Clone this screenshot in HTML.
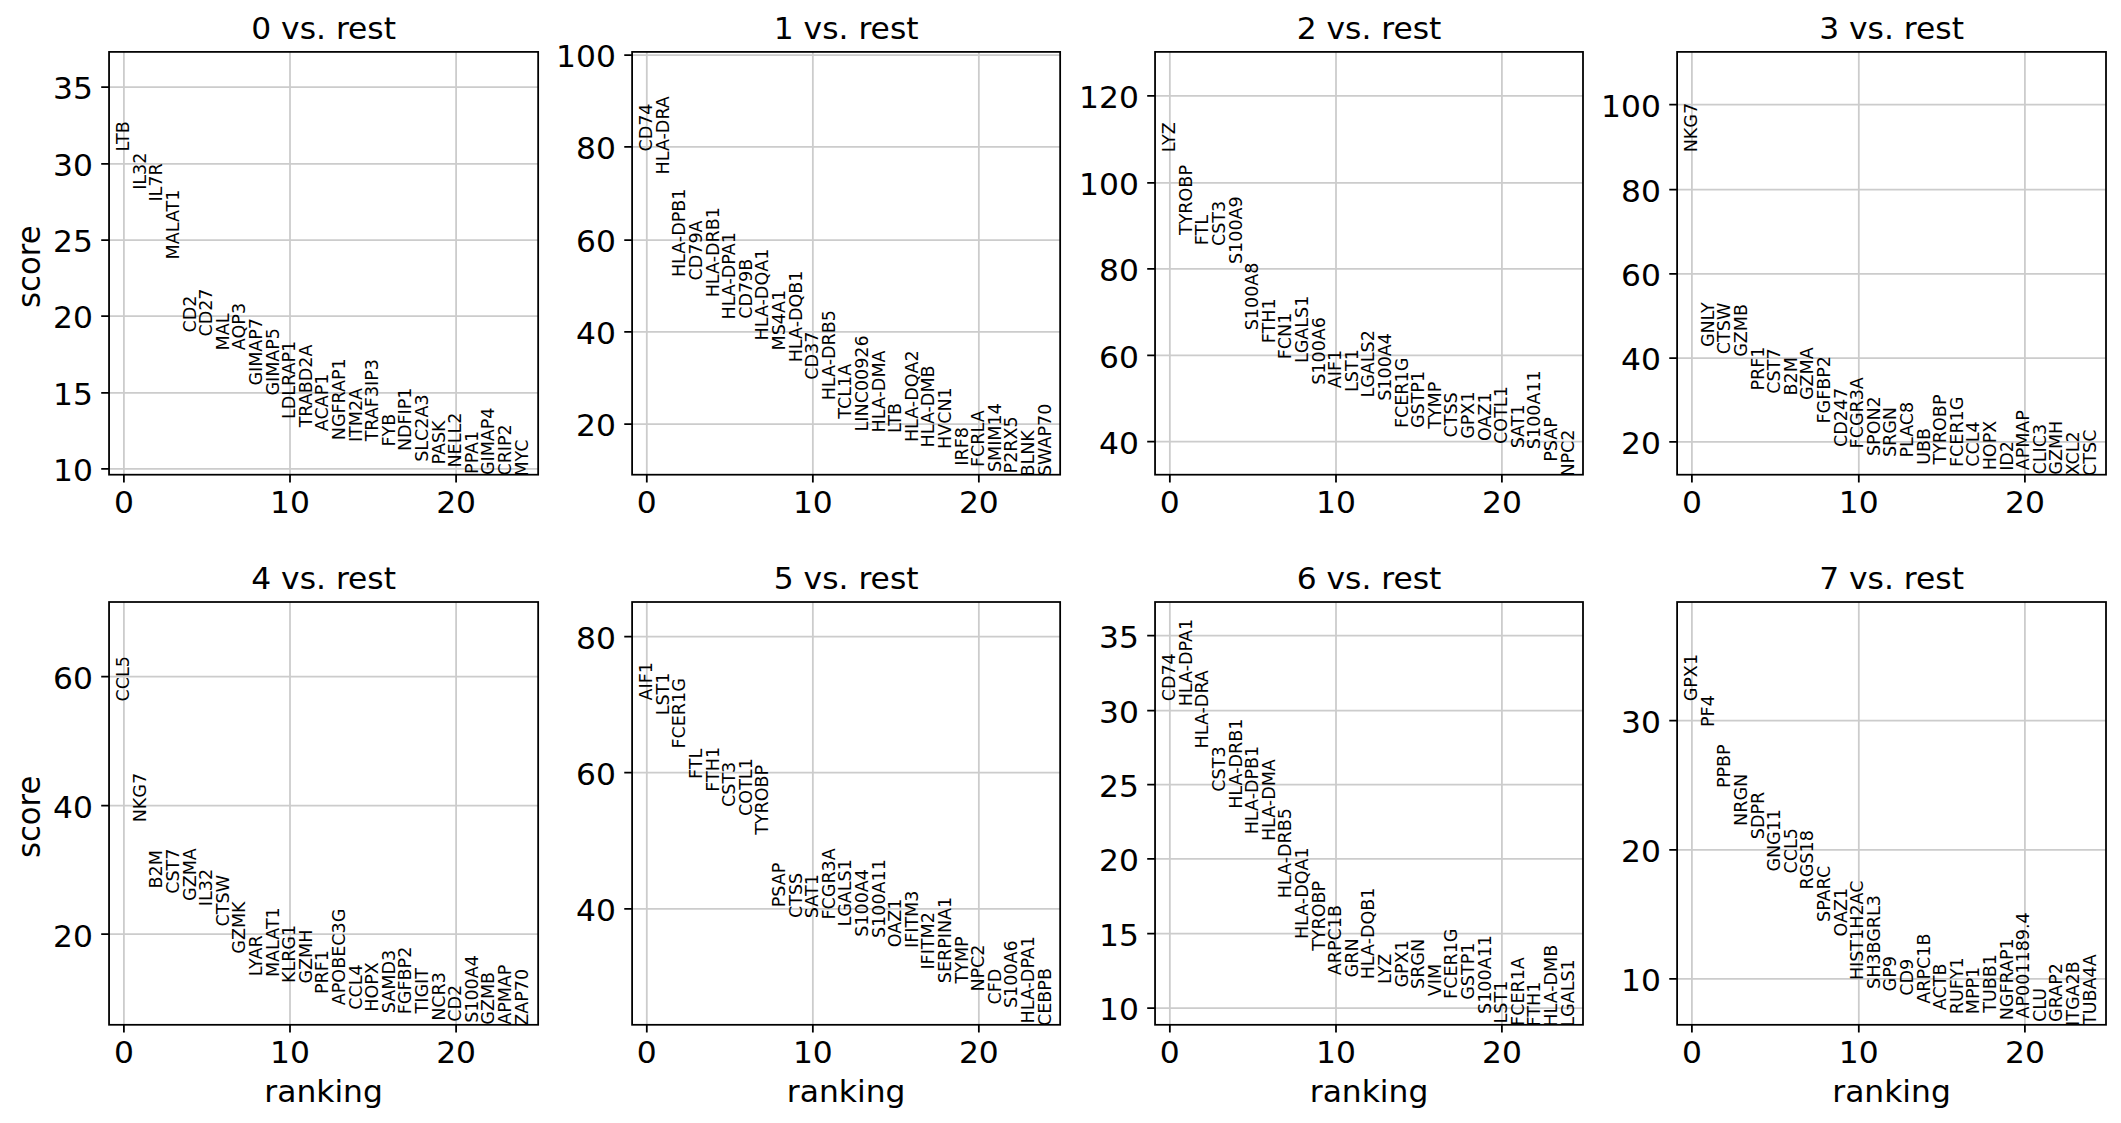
<!DOCTYPE html>
<html lang="en"><head><meta charset="utf-8"><title>rank_genes_groups</title>
<style>
html,body{margin:0;padding:0;background:#fff}
body{width:2121px;height:1123px;overflow:hidden}
svg{display:block}
text{font-family:"DejaVu Sans","Liberation Sans",sans-serif;fill:#000}
.t{font-size:30.7px}
.g{font-size:17.54px}
.gr{stroke:#cccccc;stroke-width:1.75;fill:none}
.sp{stroke:#000;stroke-width:1.75;fill:none}
.tk{stroke:#000;stroke-width:1.75;fill:none}
</style></head><body>
<svg width="2121" height="1123" viewBox="0 0 2121 1123">
<rect width="2121" height="1123" fill="#fff"/>
<g transform="scale(1.0209 1)">
<g>
<path class="gr" d="M121.36 51.9V474.7M284.06 51.9V474.7M446.76 51.9V474.7M106.82 87.1H527.13M106.82 163.96H527.13M106.82 240.04H527.13M106.82 316H527.13M106.82 392.9H527.13M106.82 468.85H527.13"/>
<path class="tk" d="M121.36 474.7v7.68M284.06 474.7v7.68M446.76 474.7v7.68M106.82 87.1h-7.68M106.82 163.96h-7.68M106.82 240.04h-7.68M106.82 316h-7.68M106.82 392.9h-7.68M106.82 468.85h-7.68"/>
<text class="g" transform="translate(126.58 151.42) rotate(-90)">LTB</text>
<text class="g" transform="translate(142.84 189.82) rotate(-90)">IL32</text>
<text class="g" transform="translate(159.1 201.62) rotate(-90)">IL7R</text>
<text class="g" transform="translate(175.36 259.42) rotate(-90)">MALAT1</text>
<text class="g" transform="translate(191.62 332.59) rotate(-90)">CD2</text>
<text class="g" transform="translate(207.88 336.59) rotate(-90)">CD27</text>
<text class="g" transform="translate(224.14 350.42) rotate(-90)">MAL</text>
<text class="g" transform="translate(240.4 350.14) rotate(-90)">AQP3</text>
<text class="g" transform="translate(256.66 385.59) rotate(-90)">GIMAP7</text>
<text class="g" transform="translate(272.92 395.59) rotate(-90)">GIMAP5</text>
<text class="g" transform="translate(289.18 419.12) rotate(-90)">LDLRAP1</text>
<text class="g" transform="translate(305.44 427.35) rotate(-90)">TRABD2A</text>
<text class="g" transform="translate(321.71 431.14) rotate(-90)">ACAP1</text>
<text class="g" transform="translate(337.97 440.22) rotate(-90)">NGFRAP1</text>
<text class="g" transform="translate(354.23 442.12) rotate(-90)">ITM2A</text>
<text class="g" transform="translate(370.49 441.35) rotate(-90)">TRAF3IP3</text>
<text class="g" transform="translate(386.75 446.52) rotate(-90)">FYB</text>
<text class="g" transform="translate(403.01 451.12) rotate(-90)">NDFIP1</text>
<text class="g" transform="translate(419.27 461.86) rotate(-90)">SLC2A3</text>
<text class="g" transform="translate(435.53 464.52) rotate(-90)">PASK</text>
<text class="g" transform="translate(451.79 467.52) rotate(-90)">NELL2</text>
<text class="g" transform="translate(468.05 473.92) rotate(-90)">PPA1</text>
<text class="g" transform="translate(484.31 475.09) rotate(-90)">GIMAP4</text>
<text class="g" transform="translate(500.57 475.59) rotate(-90)">CRIP2</text>
<text class="g" transform="translate(516.83 476.62) rotate(-90)">MYC</text>
<rect class="sp" x="106.82" y="51.9" width="420.32" height="422.8"/>
<text class="t" text-anchor="middle" x="121.36" y="513.4">0</text>
<text class="t" text-anchor="middle" x="284.06" y="513.4">10</text>
<text class="t" text-anchor="middle" x="446.76" y="513.4">20</text>
<text class="t" text-anchor="end" x="90.97" y="99.5">35</text>
<text class="t" text-anchor="end" x="90.97" y="176.36">30</text>
<text class="t" text-anchor="end" x="90.97" y="252.44">25</text>
<text class="t" text-anchor="end" x="90.97" y="328.4">20</text>
<text class="t" text-anchor="end" x="90.97" y="405.3">15</text>
<text class="t" text-anchor="end" x="90.97" y="481.25">10</text>
<text class="t" text-anchor="middle" x="316.98" y="38.74">0 vs. rest</text>
<text class="t" text-anchor="middle" transform="translate(39.18 266.7) rotate(-90)">score</text>
</g>
<g>
<path class="gr" d="M633.56 51.9V474.7M796.21 51.9V474.7M958.81 51.9V474.7M619.16 55H1038.45M619.16 146.9H1038.45M619.16 240.1H1038.45M619.16 331.8H1038.45M619.16 424H1038.45"/>
<path class="tk" d="M633.56 474.7v7.68M796.21 474.7v7.68M958.81 474.7v7.68M619.16 55h-7.68M619.16 146.9h-7.68M619.16 240.1h-7.68M619.16 331.8h-7.68M619.16 424h-7.68"/>
<text class="g" transform="translate(638.93 151.59) rotate(-90)">CD74</text>
<text class="g" transform="translate(655.19 174.42) rotate(-90)">HLA-DRA</text>
<text class="g" transform="translate(671.45 277.12) rotate(-90)">HLA-DPB1</text>
<text class="g" transform="translate(687.71 280.49) rotate(-90)">CD79A</text>
<text class="g" transform="translate(703.97 297.32) rotate(-90)">HLA-DRB1</text>
<text class="g" transform="translate(720.23 319.52) rotate(-90)">HLA-DPA1</text>
<text class="g" transform="translate(736.49 318.79) rotate(-90)">CD79B</text>
<text class="g" transform="translate(752.75 340.42) rotate(-90)">HLA-DQA1</text>
<text class="g" transform="translate(769.01 350.42) rotate(-90)">MS4A1</text>
<text class="g" transform="translate(785.27 362.32) rotate(-90)">HLA-DQB1</text>
<text class="g" transform="translate(801.53 379.69) rotate(-90)">CD37</text>
<text class="g" transform="translate(817.79 400.32) rotate(-90)">HLA-DRB5</text>
<text class="g" transform="translate(834.05 418.65) rotate(-90)">TCL1A</text>
<text class="g" transform="translate(850.31 431.42) rotate(-90)">LINC00926</text>
<text class="g" transform="translate(866.57 432.42) rotate(-90)">HLA-DMA</text>
<text class="g" transform="translate(882.83 433.12) rotate(-90)">LTB</text>
<text class="g" transform="translate(899.09 442.12) rotate(-90)">HLA-DQA2</text>
<text class="g" transform="translate(915.35 447.42) rotate(-90)">HLA-DMB</text>
<text class="g" transform="translate(931.61 448.92) rotate(-90)">HVCN1</text>
<text class="g" transform="translate(947.87 465.72) rotate(-90)">IRF8</text>
<text class="g" transform="translate(964.13 467.02) rotate(-90)">FCRLA</text>
<text class="g" transform="translate(980.39 472.06) rotate(-90)">SMIM14</text>
<text class="g" transform="translate(996.65 473.42) rotate(-90)">P2RX5</text>
<text class="g" transform="translate(1012.91 476.62) rotate(-90)">BLNK</text>
<text class="g" transform="translate(1029.17 476.06) rotate(-90)">SWAP70</text>
<rect class="sp" x="619.16" y="51.9" width="419.29" height="422.8"/>
<text class="t" text-anchor="middle" x="633.56" y="513.4">0</text>
<text class="t" text-anchor="middle" x="796.21" y="513.4">10</text>
<text class="t" text-anchor="middle" x="958.81" y="513.4">20</text>
<text class="t" text-anchor="end" x="603.31" y="67.4">100</text>
<text class="t" text-anchor="end" x="603.31" y="159.3">80</text>
<text class="t" text-anchor="end" x="603.31" y="252.5">60</text>
<text class="t" text-anchor="end" x="603.31" y="344.2">40</text>
<text class="t" text-anchor="end" x="603.31" y="436.4">20</text>
<text class="t" text-anchor="middle" x="828.8" y="38.74">1 vs. rest</text>
</g>
<g>
<path class="gr" d="M1145.9 51.9V474.7M1308.65 51.9V474.7M1471.15 51.9V474.7M1131.4 95.97H1550.59M1131.4 182.8H1550.59M1131.4 268.75H1550.59M1131.4 355.45H1550.59M1131.4 441.5H1550.59"/>
<path class="tk" d="M1145.9 474.7v7.68M1308.65 474.7v7.68M1471.15 474.7v7.68M1131.4 95.97h-7.68M1131.4 182.8h-7.68M1131.4 268.75h-7.68M1131.4 355.45h-7.68M1131.4 441.5h-7.68"/>
<text class="g" transform="translate(1151.17 152.32) rotate(-90)">LYZ</text>
<text class="g" transform="translate(1167.43 235.05) rotate(-90)">TYROBP</text>
<text class="g" transform="translate(1183.69 245.22) rotate(-90)">FTL</text>
<text class="g" transform="translate(1199.95 246.09) rotate(-90)">CST3</text>
<text class="g" transform="translate(1216.21 264.06) rotate(-90)">S100A9</text>
<text class="g" transform="translate(1232.47 330.26) rotate(-90)">S100A8</text>
<text class="g" transform="translate(1248.73 343.22) rotate(-90)">FTH1</text>
<text class="g" transform="translate(1264.99 359.32) rotate(-90)">FCN1</text>
<text class="g" transform="translate(1281.25 363.12) rotate(-90)">LGALS1</text>
<text class="g" transform="translate(1297.51 384.76) rotate(-90)">S100A6</text>
<text class="g" transform="translate(1313.77 388.24) rotate(-90)">AIF1</text>
<text class="g" transform="translate(1330.03 391.92) rotate(-90)">LST1</text>
<text class="g" transform="translate(1346.29 397.52) rotate(-90)">LGALS2</text>
<text class="g" transform="translate(1362.55 400.76) rotate(-90)">S100A4</text>
<text class="g" transform="translate(1378.81 428.12) rotate(-90)">FCER1G</text>
<text class="g" transform="translate(1395.07 428.09) rotate(-90)">GSTP1</text>
<text class="g" transform="translate(1411.33 428.85) rotate(-90)">TYMP</text>
<text class="g" transform="translate(1427.59 437.49) rotate(-90)">CTSS</text>
<text class="g" transform="translate(1443.85 438.79) rotate(-90)">GPX1</text>
<text class="g" transform="translate(1460.11 440.89) rotate(-90)">OAZ1</text>
<text class="g" transform="translate(1476.37 443.89) rotate(-90)">COTL1</text>
<text class="g" transform="translate(1492.63 448.36) rotate(-90)">SAT1</text>
<text class="g" transform="translate(1508.89 449.16) rotate(-90)">S100A11</text>
<text class="g" transform="translate(1525.15 461.72) rotate(-90)">PSAP</text>
<text class="g" transform="translate(1541.41 476.62) rotate(-90)">NPC2</text>
<rect class="sp" x="1131.4" y="51.9" width="419.19" height="422.8"/>
<text class="t" text-anchor="middle" x="1145.9" y="513.4">0</text>
<text class="t" text-anchor="middle" x="1308.65" y="513.4">10</text>
<text class="t" text-anchor="middle" x="1471.15" y="513.4">20</text>
<text class="t" text-anchor="end" x="1115.55" y="108.37">120</text>
<text class="t" text-anchor="end" x="1115.55" y="195.2">100</text>
<text class="t" text-anchor="end" x="1115.55" y="281.15">80</text>
<text class="t" text-anchor="end" x="1115.55" y="367.85">60</text>
<text class="t" text-anchor="end" x="1115.55" y="453.9">40</text>
<text class="t" text-anchor="middle" x="1341" y="38.74">2 vs. rest</text>
</g>
<g>
<path class="gr" d="M1657.26 51.9V474.7M1820.75 51.9V474.7M1983.45 51.9V474.7M1642.77 104.6H2062.89M1642.77 189.7H2062.89M1642.77 273.95H2062.89M1642.77 358H2062.89M1642.77 441.8H2062.89"/>
<path class="tk" d="M1657.26 474.7v7.68M1820.75 474.7v7.68M1983.45 474.7v7.68M1642.77 104.6h-7.68M1642.77 189.7h-7.68M1642.77 273.95h-7.68M1642.77 358h-7.68M1642.77 441.8h-7.68"/>
<text class="g" transform="translate(1662.53 152.32) rotate(-90)">NKG7</text>
<text class="g" transform="translate(1678.79 347.09) rotate(-90)">GNLY</text>
<text class="g" transform="translate(1695.05 354.19) rotate(-90)">CTSW</text>
<text class="g" transform="translate(1711.31 356.79) rotate(-90)">GZMB</text>
<text class="g" transform="translate(1727.57 390.62) rotate(-90)">PRF1</text>
<text class="g" transform="translate(1743.83 393.69) rotate(-90)">CST7</text>
<text class="g" transform="translate(1760.09 395.42) rotate(-90)">B2M</text>
<text class="g" transform="translate(1776.35 400.09) rotate(-90)">GZMA</text>
<text class="g" transform="translate(1792.61 423.52) rotate(-90)">FGFBP2</text>
<text class="g" transform="translate(1808.87 446.99) rotate(-90)">CD247</text>
<text class="g" transform="translate(1825.13 448.42) rotate(-90)">FCGR3A</text>
<text class="g" transform="translate(1841.39 456.06) rotate(-90)">SPON2</text>
<text class="g" transform="translate(1857.65 457.06) rotate(-90)">SRGN</text>
<text class="g" transform="translate(1873.91 457.62) rotate(-90)">PLAC8</text>
<text class="g" transform="translate(1890.17 464.82) rotate(-90)">UBB</text>
<text class="g" transform="translate(1906.43 464.55) rotate(-90)">TYROBP</text>
<text class="g" transform="translate(1922.69 467.02) rotate(-90)">FCER1G</text>
<text class="g" transform="translate(1938.95 466.79) rotate(-90)">CCL4</text>
<text class="g" transform="translate(1955.21 470.32) rotate(-90)">HOPX</text>
<text class="g" transform="translate(1971.47 470.82) rotate(-90)">ID2</text>
<text class="g" transform="translate(1987.74 470.34) rotate(-90)">APMAP</text>
<text class="g" transform="translate(2004 474.49) rotate(-90)">CLIC3</text>
<text class="g" transform="translate(2020.26 474.69) rotate(-90)">GZMH</text>
<text class="g" transform="translate(2036.52 475.22) rotate(-90)">XCL2</text>
<text class="g" transform="translate(2052.78 475.89) rotate(-90)">CTSC</text>
<rect class="sp" x="1642.77" y="51.9" width="420.12" height="422.8"/>
<text class="t" text-anchor="middle" x="1657.26" y="513.4">0</text>
<text class="t" text-anchor="middle" x="1820.75" y="513.4">10</text>
<text class="t" text-anchor="middle" x="1983.45" y="513.4">20</text>
<text class="t" text-anchor="end" x="1626.91" y="117">100</text>
<text class="t" text-anchor="end" x="1626.91" y="202.1">80</text>
<text class="t" text-anchor="end" x="1626.91" y="286.35">60</text>
<text class="t" text-anchor="end" x="1626.91" y="370.4">40</text>
<text class="t" text-anchor="end" x="1626.91" y="454.2">20</text>
<text class="t" text-anchor="middle" x="1852.83" y="38.74">3 vs. rest</text>
</g>
<g>
<path class="gr" d="M121.36 602V1024.8M284.06 602V1024.8M446.76 602V1024.8M106.82 676.5H527.13M106.82 805.65H527.13M106.82 934.2H527.13"/>
<path class="tk" d="M121.36 1024.8v7.68M284.06 1024.8v7.68M446.76 1024.8v7.68M106.82 676.5h-7.68M106.82 805.65h-7.68M106.82 934.2h-7.68"/>
<text class="g" transform="translate(126.58 701.59) rotate(-90)">CCL5</text>
<text class="g" transform="translate(142.84 822.32) rotate(-90)">NKG7</text>
<text class="g" transform="translate(159.1 888.42) rotate(-90)">B2M</text>
<text class="g" transform="translate(175.36 893.79) rotate(-90)">CST7</text>
<text class="g" transform="translate(191.62 900.89) rotate(-90)">GZMA</text>
<text class="g" transform="translate(207.88 906.22) rotate(-90)">IL32</text>
<text class="g" transform="translate(224.14 926.39) rotate(-90)">CTSW</text>
<text class="g" transform="translate(240.4 953.69) rotate(-90)">GZMK</text>
<text class="g" transform="translate(256.66 976.32) rotate(-90)">LYAR</text>
<text class="g" transform="translate(272.92 977.02) rotate(-90)">MALAT1</text>
<text class="g" transform="translate(289.18 983.12) rotate(-90)">KLRG1</text>
<text class="g" transform="translate(305.44 983.49) rotate(-90)">GZMH</text>
<text class="g" transform="translate(321.71 994.12) rotate(-90)">PRF1</text>
<text class="g" transform="translate(337.97 1005.24) rotate(-90)">APOBEC3G</text>
<text class="g" transform="translate(354.23 1009.69) rotate(-90)">CCL4</text>
<text class="g" transform="translate(370.49 1011.72) rotate(-90)">HOPX</text>
<text class="g" transform="translate(386.75 1013.16) rotate(-90)">SAMD3</text>
<text class="g" transform="translate(403.01 1014.22) rotate(-90)">FGFBP2</text>
<text class="g" transform="translate(419.27 1013.45) rotate(-90)">TIGIT</text>
<text class="g" transform="translate(435.53 1020.82) rotate(-90)">NCR3</text>
<text class="g" transform="translate(451.79 1021.69) rotate(-90)">CD2</text>
<text class="g" transform="translate(468.05 1022.86) rotate(-90)">S100A4</text>
<text class="g" transform="translate(484.31 1024.69) rotate(-90)">GZMB</text>
<text class="g" transform="translate(500.57 1024.84) rotate(-90)">APMAP</text>
<text class="g" transform="translate(516.83 1025.79) rotate(-90)">ZAP70</text>
<rect class="sp" x="106.82" y="602" width="420.32" height="422.8"/>
<text class="t" text-anchor="middle" x="121.36" y="1063.5">0</text>
<text class="t" text-anchor="middle" x="284.06" y="1063.5">10</text>
<text class="t" text-anchor="middle" x="446.76" y="1063.5">20</text>
<text class="t" text-anchor="end" x="90.97" y="688.9">60</text>
<text class="t" text-anchor="end" x="90.97" y="818.05">40</text>
<text class="t" text-anchor="end" x="90.97" y="946.6">20</text>
<text class="t" text-anchor="middle" x="316.98" y="588.84">4 vs. rest</text>
<text class="t" text-anchor="middle" x="316.98" y="1102">ranking</text>
<text class="t" text-anchor="middle" transform="translate(39.18 816.8) rotate(-90)">score</text>
</g>
<g>
<path class="gr" d="M633.56 602V1024.8M796.21 602V1024.8M958.81 602V1024.8M619.16 636.55H1038.45M619.16 772.6H1038.45M619.16 908.8H1038.45"/>
<path class="tk" d="M633.56 1024.8v7.68M796.21 1024.8v7.68M958.81 1024.8v7.68M619.16 636.55h-7.68M619.16 772.6h-7.68M619.16 908.8h-7.68"/>
<text class="g" transform="translate(638.93 700.44) rotate(-90)">AIF1</text>
<text class="g" transform="translate(655.19 715.32) rotate(-90)">LST1</text>
<text class="g" transform="translate(671.45 748.62) rotate(-90)">FCER1G</text>
<text class="g" transform="translate(687.71 778.92) rotate(-90)">FTL</text>
<text class="g" transform="translate(703.97 791.72) rotate(-90)">FTH1</text>
<text class="g" transform="translate(720.23 806.99) rotate(-90)">CST3</text>
<text class="g" transform="translate(736.49 815.89) rotate(-90)">COTL1</text>
<text class="g" transform="translate(752.75 834.85) rotate(-90)">TYROBP</text>
<text class="g" transform="translate(769.01 907.22) rotate(-90)">PSAP</text>
<text class="g" transform="translate(785.27 917.99) rotate(-90)">CTSS</text>
<text class="g" transform="translate(801.53 918.16) rotate(-90)">SAT1</text>
<text class="g" transform="translate(817.79 919.52) rotate(-90)">FCGR3A</text>
<text class="g" transform="translate(834.05 926.62) rotate(-90)">LGALS1</text>
<text class="g" transform="translate(850.31 936.76) rotate(-90)">S100A4</text>
<text class="g" transform="translate(866.57 938.06) rotate(-90)">S100A11</text>
<text class="g" transform="translate(882.83 947.29) rotate(-90)">OAZ1</text>
<text class="g" transform="translate(899.09 948.02) rotate(-90)">IFITM3</text>
<text class="g" transform="translate(915.35 969.62) rotate(-90)">IFITM2</text>
<text class="g" transform="translate(931.61 983.16) rotate(-90)">SERPINA1</text>
<text class="g" transform="translate(947.87 983.45) rotate(-90)">TYMP</text>
<text class="g" transform="translate(964.13 991.62) rotate(-90)">NPC2</text>
<text class="g" transform="translate(980.39 1004.59) rotate(-90)">CFD</text>
<text class="g" transform="translate(996.65 1008.06) rotate(-90)">S100A6</text>
<text class="g" transform="translate(1012.91 1023.42) rotate(-90)">HLA-DPA1</text>
<text class="g" transform="translate(1029.17 1025.99) rotate(-90)">CEBPB</text>
<rect class="sp" x="619.16" y="602" width="419.29" height="422.8"/>
<text class="t" text-anchor="middle" x="633.56" y="1063.5">0</text>
<text class="t" text-anchor="middle" x="796.21" y="1063.5">10</text>
<text class="t" text-anchor="middle" x="958.81" y="1063.5">20</text>
<text class="t" text-anchor="end" x="603.31" y="648.95">80</text>
<text class="t" text-anchor="end" x="603.31" y="785">60</text>
<text class="t" text-anchor="end" x="603.31" y="921.2">40</text>
<text class="t" text-anchor="middle" x="828.8" y="588.84">5 vs. rest</text>
<text class="t" text-anchor="middle" x="828.8" y="1102">ranking</text>
</g>
<g>
<path class="gr" d="M1145.9 602V1024.8M1308.65 602V1024.8M1471.15 602V1024.8M1131.4 635.5H1550.59M1131.4 710.7H1550.59M1131.4 784.5H1550.59M1131.4 858.85H1550.59M1131.4 933.5H1550.59M1131.4 1008.1H1550.59"/>
<path class="tk" d="M1145.9 1024.8v7.68M1308.65 1024.8v7.68M1471.15 1024.8v7.68M1131.4 635.5h-7.68M1131.4 710.7h-7.68M1131.4 784.5h-7.68M1131.4 858.85h-7.68M1131.4 933.5h-7.68M1131.4 1008.1h-7.68"/>
<text class="g" transform="translate(1151.17 701.29) rotate(-90)">CD74</text>
<text class="g" transform="translate(1167.43 706.32) rotate(-90)">HLA-DPA1</text>
<text class="g" transform="translate(1183.69 748.42) rotate(-90)">HLA-DRA</text>
<text class="g" transform="translate(1199.95 791.69) rotate(-90)">CST3</text>
<text class="g" transform="translate(1216.21 808.82) rotate(-90)">HLA-DRB1</text>
<text class="g" transform="translate(1232.47 834.32) rotate(-90)">HLA-DPB1</text>
<text class="g" transform="translate(1248.73 841.12) rotate(-90)">HLA-DMA</text>
<text class="g" transform="translate(1264.99 898.32) rotate(-90)">HLA-DRB5</text>
<text class="g" transform="translate(1281.25 939.12) rotate(-90)">HLA-DQA1</text>
<text class="g" transform="translate(1297.51 950.85) rotate(-90)">TYROBP</text>
<text class="g" transform="translate(1313.77 975.24) rotate(-90)">ARPC1B</text>
<text class="g" transform="translate(1330.03 977.39) rotate(-90)">GRN</text>
<text class="g" transform="translate(1346.29 979.32) rotate(-90)">HLA-DQB1</text>
<text class="g" transform="translate(1362.55 983.92) rotate(-90)">LYZ</text>
<text class="g" transform="translate(1378.81 987.49) rotate(-90)">GPX1</text>
<text class="g" transform="translate(1395.07 988.96) rotate(-90)">SRGN</text>
<text class="g" transform="translate(1411.33 996.14) rotate(-90)">VIM</text>
<text class="g" transform="translate(1427.59 998.92) rotate(-90)">FCER1G</text>
<text class="g" transform="translate(1443.85 999.79) rotate(-90)">GSTP1</text>
<text class="g" transform="translate(1460.11 1013.96) rotate(-90)">S100A11</text>
<text class="g" transform="translate(1476.37 1023.42) rotate(-90)">LST1</text>
<text class="g" transform="translate(1492.63 1025.92) rotate(-90)">FCER1A</text>
<text class="g" transform="translate(1508.89 1026.42) rotate(-90)">FTH1</text>
<text class="g" transform="translate(1525.15 1026.72) rotate(-90)">HLA-DMB</text>
<text class="g" transform="translate(1541.41 1026.72) rotate(-90)">LGALS1</text>
<rect class="sp" x="1131.4" y="602" width="419.19" height="422.8"/>
<text class="t" text-anchor="middle" x="1145.9" y="1063.5">0</text>
<text class="t" text-anchor="middle" x="1308.65" y="1063.5">10</text>
<text class="t" text-anchor="middle" x="1471.15" y="1063.5">20</text>
<text class="t" text-anchor="end" x="1115.55" y="647.9">35</text>
<text class="t" text-anchor="end" x="1115.55" y="723.1">30</text>
<text class="t" text-anchor="end" x="1115.55" y="796.9">25</text>
<text class="t" text-anchor="end" x="1115.55" y="871.25">20</text>
<text class="t" text-anchor="end" x="1115.55" y="945.9">15</text>
<text class="t" text-anchor="end" x="1115.55" y="1020.5">10</text>
<text class="t" text-anchor="middle" x="1341" y="588.84">6 vs. rest</text>
<text class="t" text-anchor="middle" x="1341" y="1102">ranking</text>
</g>
<g>
<path class="gr" d="M1657.26 602V1024.8M1820.75 602V1024.8M1983.45 602V1024.8M1642.77 720.5H2062.89M1642.77 849.9H2062.89M1642.77 978.9H2062.89"/>
<path class="tk" d="M1657.26 1024.8v7.68M1820.75 1024.8v7.68M1983.45 1024.8v7.68M1642.77 720.5h-7.68M1642.77 849.9h-7.68M1642.77 978.9h-7.68"/>
<text class="g" transform="translate(1662.53 701.29) rotate(-90)">GPX1</text>
<text class="g" transform="translate(1678.79 727.02) rotate(-90)">PF4</text>
<text class="g" transform="translate(1695.05 788.12) rotate(-90)">PPBP</text>
<text class="g" transform="translate(1711.31 825.92) rotate(-90)">NRGN</text>
<text class="g" transform="translate(1727.57 839.16) rotate(-90)">SDPR</text>
<text class="g" transform="translate(1743.83 871.59) rotate(-90)">GNG11</text>
<text class="g" transform="translate(1760.09 873.39) rotate(-90)">CCL5</text>
<text class="g" transform="translate(1776.35 889.42) rotate(-90)">RGS18</text>
<text class="g" transform="translate(1792.61 921.96) rotate(-90)">SPARC</text>
<text class="g" transform="translate(1808.87 936.59) rotate(-90)">OAZ1</text>
<text class="g" transform="translate(1825.13 980.12) rotate(-90)">HIST1H2AC</text>
<text class="g" transform="translate(1841.39 988.96) rotate(-90)">SH3BGRL3</text>
<text class="g" transform="translate(1857.65 991.39) rotate(-90)">GP9</text>
<text class="g" transform="translate(1873.91 995.69) rotate(-90)">CD9</text>
<text class="g" transform="translate(1890.17 1003.74) rotate(-90)">ARPC1B</text>
<text class="g" transform="translate(1906.43 1010.14) rotate(-90)">ACTB</text>
<text class="g" transform="translate(1922.69 1014.22) rotate(-90)">RUFY1</text>
<text class="g" transform="translate(1938.95 1014.22) rotate(-90)">MPP1</text>
<text class="g" transform="translate(1955.21 1012.75) rotate(-90)">TUBB1</text>
<text class="g" transform="translate(1971.47 1020.32) rotate(-90)">NGFRAP1</text>
<text class="g" transform="translate(1987.74 1018.54) rotate(-90)">AP001189.4</text>
<text class="g" transform="translate(2004 1021.89) rotate(-90)">CLU</text>
<text class="g" transform="translate(2020.26 1021.89) rotate(-90)">GRAP2</text>
<text class="g" transform="translate(2036.52 1025.92) rotate(-90)">ITGA2B</text>
<text class="g" transform="translate(2052.78 1024.95) rotate(-90)">TUBA4A</text>
<rect class="sp" x="1642.77" y="602" width="420.12" height="422.8"/>
<text class="t" text-anchor="middle" x="1657.26" y="1063.5">0</text>
<text class="t" text-anchor="middle" x="1820.75" y="1063.5">10</text>
<text class="t" text-anchor="middle" x="1983.45" y="1063.5">20</text>
<text class="t" text-anchor="end" x="1626.91" y="732.9">30</text>
<text class="t" text-anchor="end" x="1626.91" y="862.3">20</text>
<text class="t" text-anchor="end" x="1626.91" y="991.3">10</text>
<text class="t" text-anchor="middle" x="1852.83" y="588.84">7 vs. rest</text>
<text class="t" text-anchor="middle" x="1852.83" y="1102">ranking</text>
</g>
</g>
</svg>
</body></html>
